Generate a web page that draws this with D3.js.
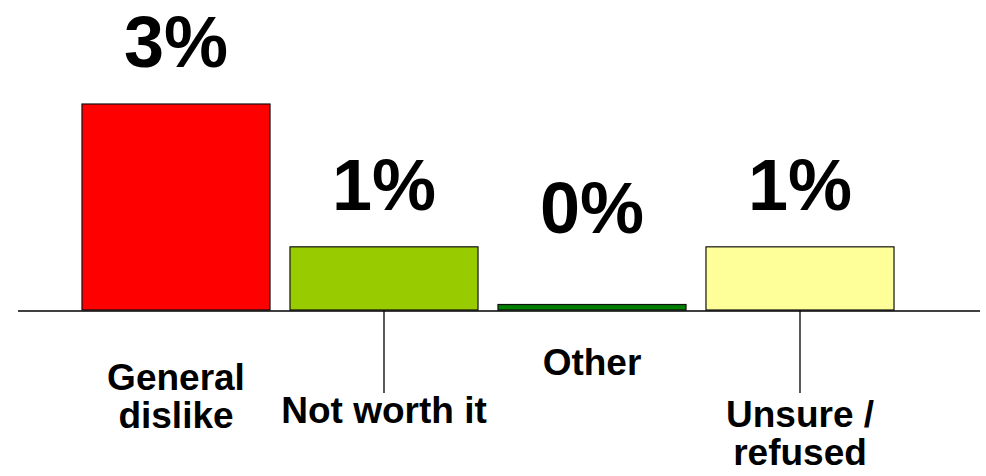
<!DOCTYPE html>
<html>
<head>
<meta charset="utf-8">
<script src="https://cdn.jsdelivr.net/npm/d3@7"></script>
<style>
    body { margin: 0; background: #fff; }
    svg { display: block; font-family: "Liberation Sans", Arial, sans-serif; font-weight: bold; }
</style>
</head>
<body>
<div class="chart"></div>
<script>
// Data.
const categories = ['General dislike', 'Not worth it', 'Other', 'Unsure / refused'];
const labelLines = [['General', 'dislike'], ['Not worth it'], ['Other'], ['Unsure /', 'refused']];
const values = [3.0, 0.92, 0.08, 0.92];
const colors = ['#ff0000', '#99cc00', '#008000', '#ffff99'];

const width = 986;
const height = 476;

const svg = d3
    .select('.chart')
    .append('svg')
    .attr('width', width)
    .attr('height', height);

//Scales
const xScale = d3.scaleBand()
    .domain(categories)
    .range([72, 904])
    .paddingInner(0.096)
    .paddingOuter(0.048);

const yScale = d3.scaleLinear()
    .domain([0, 3])
    .range([310, 104]);

const rows = categories.map((c, i) => ({name: c, value: values[i], color: colors[i], lines: labelLines[i], level: i % 2}));

// Bars
svg.append('g')
    .selectAll('.bar')
    .data(rows)
    .enter()
    .append('rect')
    .attr('class', 'bar')
    .attr('x', d => xScale(d.name))
    .attr('y', d => yScale(d.value))
    .attr('width', xScale.bandwidth())
    .attr('height', d => yScale(0) - yScale(d.value))
    .style('fill', d => d.color)
    .style('stroke', '#111')
    .style('stroke-width', 1.2);

// Baseline
svg.append('line')
    .attr('x1', 18)
    .attr('x2', 980)
    .attr('y1', yScale(0) + 1)
    .attr('y2', yScale(0) + 1)
    .style('stroke', '#000')
    .style('stroke-width', 1.3);

// Long ticks for staggered labels
svg.append('g')
    .selectAll('line')
    .data(rows.filter(d => d.level === 1))
    .enter()
    .append('line')
    .attr('x1', d => xScale(d.name) + xScale.bandwidth() / 2)
    .attr('x2', d => xScale(d.name) + xScale.bandwidth() / 2)
    .attr('y1', yScale(0) + 1)
    .attr('y2', yScale(0) + 83)
    .style('stroke', '#000')
    .style('stroke-width', 1.3);

// Value labels
svg.append('g')
    .selectAll('text')
    .data(rows)
    .enter()
    .append('text')
    .attr('x', d => xScale(d.name) + xScale.bandwidth() / 2)
    .attr('y', d => Math.min(yScale(d.value), yScale(0) - 40) - 37)
    .attr('text-anchor', 'middle')
    .style('font-size', '72px')
    .text(d => `${Math.round(d.value)}%`);

// Category labels (two staggered rows)
const rowBase = [375, 423];
const rowShift = [15, 4];
const catText = svg.append('g')
    .selectAll('text')
    .data(rows)
    .enter()
    .append('text')
    .attr('text-anchor', 'middle')
    .style('font-size', '37px')
    .attr('transform', d => {
        const y = rowBase[d.level] + (d.lines.length - 1) * rowShift[d.level];
        return `translate(${xScale(d.name) + xScale.bandwidth() / 2}, ${y})`;
    });

catText.selectAll('tspan')
    .data(d => d.lines)
    .enter()
    .append('tspan')
    .attr('x', 0)
    .attr('y', (t, i) => i * 38)
    .text(t => t);
</script>
</body>
</html>
